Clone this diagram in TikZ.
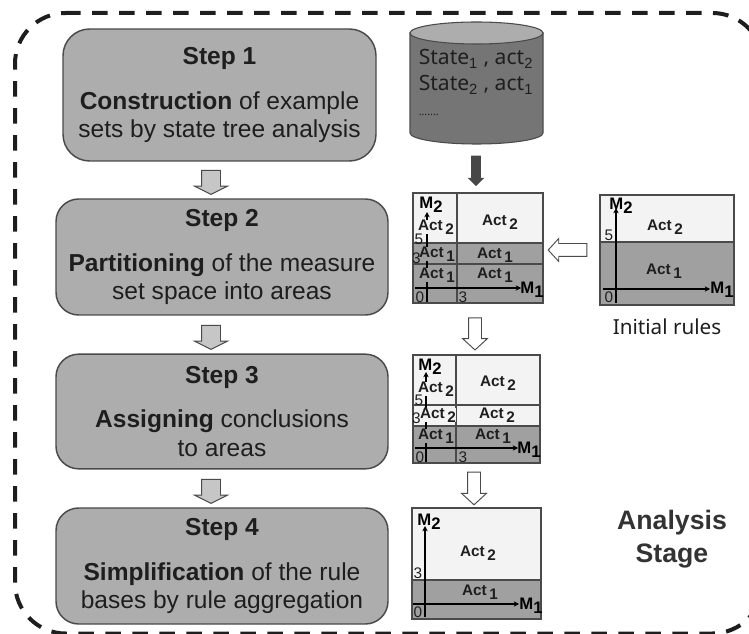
\documentclass[tikz,border=0pt]{standalone}
\usepackage{fontspec}
\setmainfont{Liberation Sans}
\newfontfamily\drumfont{Noto Sans}
\newfontfamily\stepfont{Liberation Sans}
\usetikzlibrary{shapes.arrows,arrows.meta}
\definecolor{boxgray}{HTML}{ADADAD}
\definecolor{celldark}{HTML}{A0A0A0}
\definecolor{celllight}{HTML}{F3F3F3}
\definecolor{edgegray}{HTML}{4A4A4A}
\definecolor{inkgray}{HTML}{1E1E1E}
\newcommand{\lowsub}[1]{\raisebox{-.5ex}{#1}}
\newcommand{\actA}{Act\,\lowsub{1}}
\newcommand{\actB}{Act\,\lowsub{2}}
\tikzset{
  stepbox/.style={draw=edgegray,line width=1.1pt,fill=boxgray,rounded corners=17pt,minimum width=249pt,
    align=center,inner sep=0pt,text=inkgray,font=\stepfont\fontsize{18.4}{21.5}\selectfont},
  steparrow/.style={draw=edgegray,fill=boxgray!70!white,line width=.7pt,single arrow,rotate=-90,inner sep=6.75pt,
    minimum height=18pt,single arrow head extend=5.25pt,single arrow tip angle=127},
  openarrow/.style={draw=edgegray,fill=white,line width=.7pt,single arrow,inner sep=4.5pt,
    single arrow head extend=4.5pt,single arrow tip angle=95},
  actcell/.style={inner sep=0pt,text=inkgray,font=\stepfont\fontsize{11.5}{13}\selectfont\bfseries},
  actdark/.style={actcell,fill=celldark},
  actlight/.style={actcell,fill=celllight},
  axislab/.style={inner sep=0pt,text=black,font=\stepfont\fontsize{12.5}{13}\selectfont\bfseries},
  ticklab/.style={inner sep=0pt,text=inkgray,font=\stepfont\fontsize{11.5}{12}\selectfont},
  axisline/.style={line width=.9pt,-{Stealth[length=4pt,width=4pt]}},
  cellrule/.style={draw=edgegray,line width=1pt},
  stageline/.style={line width=3pt,dash pattern=on 11.75pt off 8.5pt,rounded corners=38pt,color=inkgray}
}
\begin{document}
\begin{tikzpicture}[x=0.75pt,y=-0.75pt]
  \useasboundingbox (0,0) rectangle (749,634);
  % outer stage frame
  \draw [stageline] (65,13) -- (763,13) -- (763,633.5) -- (15,633.5) -- (15,13) -- (65,13);

  % step boxes
  \node (step1) [stepbox,minimum width=234.75pt,minimum height=99pt,rounded corners=20pt] at (219.5,95) {\textbf{Step 1}\\[12pt]\textbf{Construction} of example\\sets by state tree analysis};
  \node (step2) [stepbox,minimum height=87pt] at (222,257) {\textbf{Step 2}\\[12pt]\textbf{Partitioning} of the measure\\set space into areas};
  \node (step3) [stepbox,minimum height=86pt] at (222,411.5) {\textbf{Step 3}\\[12pt]\textbf{Assigning} conclusions\\to areas};
  \node (step4) [stepbox,minimum height=87pt] at (222,566) {\textbf{Step 4}\\[12pt]\textbf{Simplification} of the rule\\bases by rule aggregation};
  \node (down1) [steparrow] at (211,180) {};
  \node (down2) [steparrow] at (211,335) {};
  \node (down3) [steparrow] at (211,489) {};

  % example store
  \draw [draw=edgegray,line width=.8pt,fill=black!54] (410,33) -- (410,133) arc [x radius=66.5,y radius=11,start angle=180,end angle=0] -- (543,33) -- cycle;
  \draw [draw=edgegray,line width=.8pt,fill=boxgray] (476.5,33) ellipse [x radius=66.5,y radius=11];
  \node (storetext) [anchor=north west,align=left,inner sep=0pt,text=inkgray,font=\drumfont\fontsize{15.8}{19.5}\selectfont] at (418.5,49)
    {State$_{\mathrm{1}}$ , act$_{\mathrm{2}}$\\State$_{\mathrm{2}}$ , act$_{\mathrm{1}}$\\[-1pt]{\fontsize{8}{10}\selectfont .......}};
  \node (storedown) [single arrow,rotate=-90,draw=none,fill=black!72,inner sep=3.4pt,minimum height=23pt,
    single arrow head extend=2.6pt,single arrow tip angle=90] at (476,168.5) {};

  % partition panel, first
  \fill [celllight] (413,193) rectangle (543,243);
  \fill [celldark] (413,243) rectangle (543,303);
  \draw [cellrule] (413,243) -- (543,243) (413,264) -- (543,264) (457,193) -- (457,303) (413,193) rectangle (543,303);
  \coordinate (pa0) at (427,302);
  \coordinate (paY) at (427,212);
  \coordinate (pa1) at (415,288);
  \coordinate (paX) at (521,288);
  \draw [axisline] (pa0) -- (paY);
  \draw [axisline] (pa1) -- (paX);
  \node (paM2) [axislab] at (431,205) {M\lowsub{2}};
  \node (paM1) [axislab] at (532,290) {M\lowsub{1}};
  \node (paA) [actlight] at (436,227) {\actB};
  \node (paB) [actdark] at (437,254) {\actA};
  \node (paC) [actdark] at (437,275) {\actA};
  \node (paD) [actcell] at (500,222) {\actB};
  \node (paE) [actcell] at (495,255) {\actA};
  \node (paF) [actcell] at (495,275) {\actA};
  \node (paT5) [ticklab] at (419,239) {5};
  \node (paT3) [ticklab] at (416.5,258) {3};
  \node (paT0) [ticklab] at (420,297) {0};
  \node (paX3) [ticklab] at (463,297) {3};

  % initial rules panel
  \fill [celllight] (600,195) rectangle (734,242);
  \fill [celldark] (600,242) rectangle (734,305);
  \draw [cellrule] (600,242) -- (734,242) (600,195) rectangle (734,305);
  \coordinate (pi0) at (616,303);
  \coordinate (piY) at (616,208);
  \coordinate (pi1) at (603,289);
  \coordinate (piX) at (710,289);
  \draw [axisline] (pi0) -- (piY);
  \draw [axisline] (pi1) -- (piX);
  \node (piM2) [axislab] at (621,206) {M\lowsub{2}};
  \node (piM1) [axislab] at (722,290) {M\lowsub{1}};
  \node (piA) [actcell] at (665,227) {\actB};
  \node (piB) [actcell] at (664,271) {\actA};
  \node (piT5) [ticklab] at (609,235) {5};
  \node (piT0) [ticklab] at (609,297) {0};
  \node (initlab) [inner sep=0pt,text=inkgray,font=\drumfont\fontsize{15.5}{18}\selectfont] at (667,327) {Initial rules};
  \node (rulesleft) [openarrow,rotate=180,minimum height=29pt,single arrow head extend=3.75pt] at (570.5,250) {};
  \node (open1) [openarrow,rotate=-90,minimum height=24pt] at (475,331) {};

  % assigned panel
  \fill [celllight] (413,355) rectangle (540,426);
  \fill [celldark] (413,426) rectangle (540,463);
  \draw [cellrule] (413,405) -- (540,405) (413,426) -- (540,426) (456,355) -- (456,463) (413,355) rectangle (540,463);
  \coordinate (pb0) at (426,462);
  \coordinate (pbY) at (426,372);
  \coordinate (pb1) at (415,448);
  \coordinate (pbX) at (518,448);
  \draw [axisline] (pb0) -- (pbY);
  \draw [axisline] (pb1) -- (pbX);
  \node (pbM2) [axislab] at (430,367) {M\lowsub{2}};
  \node (pbM1) [axislab] at (529,450) {M\lowsub{1}};
  \node (pbA) [actlight] at (436,389) {\actB};
  \node (pbB) [actlight] at (438,415) {\actB};
  \node (pbC) [actdark] at (436,436) {\actA};
  \node (pbD) [actcell] at (498,383) {\actB};
  \node (pbE) [actcell] at (497,415) {\actB};
  \node (pbF) [actcell] at (493,436) {\actA};
  \node (pbT5) [ticklab] at (419,400) {5};
  \node (pbT3) [ticklab] at (416.5,418) {3};
  \node (pbT0) [ticklab] at (420,457) {0};
  \node (pbX3) [ticklab] at (463,457) {3};
  \node (open2) [openarrow,rotate=-90,minimum height=24.5pt] at (474,485.5) {};

  % simplified panel
  \fill [celllight] (412,508) rectangle (541,580);
  \fill [celldark] (412,580) rectangle (541,619);
  \draw [cellrule] (412,580) -- (541,580) (412,508) rectangle (541,619);
  \coordinate (pc0) at (425,617);
  \coordinate (pcY) at (425,526);
  \coordinate (pc1) at (413,604);
  \coordinate (pcX) at (519,604);
  \draw [axisline] (pc0) -- (pcY);
  \draw [axisline] (pc1) -- (pcX);
  \node (pcM2) [axislab] at (429,522) {M\lowsub{2}};
  \node (pcM1) [axislab] at (531,606) {M\lowsub{1}};
  \node (pcA) [actcell] at (478,553) {\actB};
  \node (pcB) [actcell] at (480,592) {\actA};
  \node (pcT3) [ticklab] at (418,573) {3};
  \node (pcT0) [ticklab] at (418,612) {0};

  \node (stagelab) [align=center,inner sep=0pt,text=black!80,font=\stepfont\fontsize{20}{24.75}\selectfont\bfseries] at (672,539) {Analysis\\Stage};
\end{tikzpicture}
\end{document}
